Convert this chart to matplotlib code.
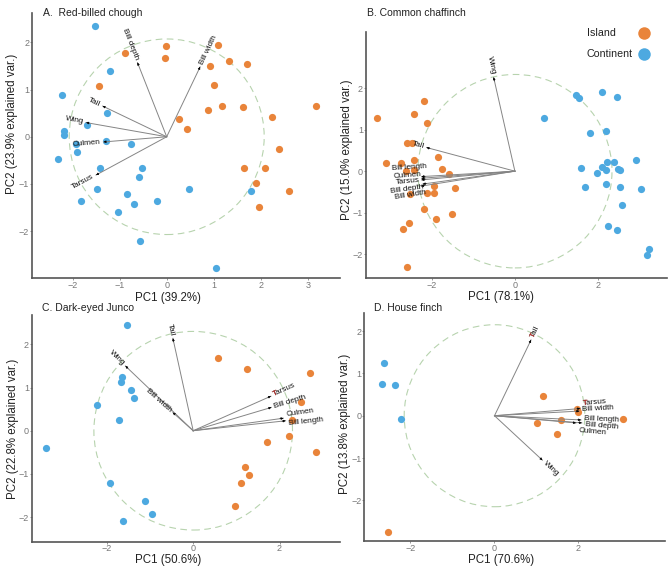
import numpy as np
import matplotlib
matplotlib.use('Agg')
import matplotlib.pyplot as plt
from matplotlib.patches import Circle

W, H = 669, 568
plt.rcParams['font.family'] = ['Liberation Sans', 'DejaVu Sans']

ISLAND = '#E9843A'
CONTINENT = '#4DA9E0'

# ---- A. Red-billed chough ----
a_isl_pc1 = [-0.88, -0.01, -0.03, -1.44, 1.09, 1.32, 1.71, 0.91, 1.00, 0.87, 1.17, 1.61,
             3.18, 2.23, 0.26, 0.43, 2.39, 1.64, 2.09, 1.89, 2.60, 1.95]
a_isl_pc2 = [1.77, 1.92, 1.66, 1.08, 1.94, 1.60, 1.53, 1.49, 1.10, 0.56, 0.65, 0.64,
             0.66, 0.42, 0.38, 0.17, -0.26, -0.67, -0.66, -0.97, -1.14, -1.48]
a_con_pc1 = [-1.53, -1.20, -2.22, -2.17, -2.19, -1.92, -1.90, -2.31, -1.26, -1.69, -1.29,
             -0.76, -1.42, -0.52, -0.58, -1.47, -0.84, -1.83, -0.69, -0.21, -1.03, 0.48,
             -0.57, 1.04, 1.78]
a_con_pc2 = [2.35, 1.40, 0.88, 0.13, 0.04, -0.15, -0.33, -0.47, 0.50, 0.25, -0.10,
             -0.15, -0.66, -0.66, -0.85, -1.10, -1.21, -1.37, -1.43, -1.37, -1.60, -1.10,
             -2.20, -2.78, -1.15]
a_vars = ['Bill depth', 'Bill width', 'Tail', 'Wing', 'Culmen', 'Tarsus']
a_load_pc1 = [-0.62, 0.71, -1.36, -1.71, -1.34, -1.50]
a_load_pc2 = [1.57, 1.48, 0.65, 0.30, -0.11, -0.81]
a_radius = 2.07

# ---- B. Common chaffinch ----
b_isl_pc1 = [-3.30, -2.18, -2.41, -2.10, -2.58, -2.46, -3.10, -2.73, -2.42, -1.85, -2.61,
             -2.42, -1.74, -1.58, -2.52, -2.10, -1.95, -1.95, -1.44, -2.18, -1.50, -1.89,
             -2.55, -2.68, -2.58]
b_isl_pc2 = [1.29, 1.69, 1.37, 1.15, 0.68, 0.67, 0.19, 0.20, 0.26, 0.35, 0.01,
             0.02, 0.06, -0.07, -0.56, -0.53, -0.53, -0.35, -0.40, -0.92, -1.02, -1.14,
             -1.24, -1.39, -2.30]
b_con_pc1 = [0.69, 1.47, 1.54, 2.08, 2.45, 1.81, 2.18, 1.58, 2.08, 2.18, 2.22, 2.39, 1.98,
             2.48, 2.53, 2.90, 1.68, 2.19, 2.53, 3.02, 2.57, 2.24, 2.46, 3.22, 3.17]
b_con_pc2 = [1.27, 1.83, 1.76, 1.91, 1.78, 0.93, 0.96, 0.08, 0.09, 0.04, 0.22, 0.21, -0.05,
             0.06, 0.02, 0.28, -0.39, -0.30, -0.39, -0.43, -0.81, -1.33, -1.42, -1.87, -2.02]
b_vars = ['Wing', 'Tail', 'Bill length', 'Culmen', 'Tarsus', 'Bill depth', 'Bill width']
b_load_pc1 = [-0.51, -2.12, -2.24, -2.24, -2.24, -2.21, -2.25]
b_load_pc2 = [2.26, 0.57, -0.13, -0.17, -0.21, -0.31, -0.36]
b_radius = 2.33

# ---- C. Dark-eyed Junco ----
c_isl_pc1 = [0.58, 1.24, 2.70, 2.49, 2.29, 2.22, 1.71, 2.84, 1.21, 1.29, 1.10, 0.96]
c_isl_pc2 = [1.68, 1.42, 1.34, 0.66, 0.25, -0.13, -0.25, -0.50, -0.83, -1.02, -1.21, -1.75]
c_con_pc1 = [-1.54, -1.66, -1.68, -1.43, -1.37, -2.23, -1.71, -3.42, -1.92, -1.12, -0.96, -1.62]
c_con_pc2 = [2.45, 1.25, 1.13, 0.94, 0.75, 0.59, 0.24, -0.39, -1.20, -1.63, -1.94, -2.09]
c_vars = ['Tail', 'Wing', 'Bill width', 'Tarsus', 'Bill depth', 'Culmen', 'Bill length']
c_load_pc1 = [-0.47, -1.57, -0.47, 1.80, 1.81, 2.09, 2.14]
c_load_pc2 = [2.14, 1.50, 0.42, 0.80, 0.54, 0.29, 0.23]
c_radius = 2.30

# ---- D. House finch ----
d_isl_pc1 = [-2.54, 1.15, 1.96, 1.98, 1.58, 1.02, 1.48, 3.06]
d_isl_pc2 = [-2.74, 0.47, 0.17, 0.09, -0.10, -0.18, -0.43, -0.07]
d_con_pc1 = [-2.62, -2.67, -2.38, -2.23]
d_con_pc2 = [1.24, 0.74, 0.73, -0.08]
d_vars = ['Tail', 'Wing', 'Tarsus', 'Bill width', 'Bill length', 'Bill depth', 'Culmen']
d_load_pc1 = [0.87, 1.14, 2.04, 2.02, 2.06, 2.08, 1.94]
d_load_pc2 = [1.79, -1.05, 0.17, 0.11, -0.10, -0.17, -0.17]
d_radius = 2.15

pc1_labels = ['PC1 (39.2%)', 'PC1 (78.1%)', 'PC1 (50.6%)', 'PC1 (70.6%)']
pc2_labels = ['PC2 (23.9% explained var.)', 'PC2 (15.0% explained var.)',
              'PC2 (22.8% explained var.)', 'PC2 (13.8% explained var.)']
titles = ['A.  Red-billed chough', 'B. Common chaffinch', 'C. Dark-eyed Junco', 'D. House finch']


def px_axes(fig, left, top, right, bottom):
    return fig.add_axes([left / W, 1 - bottom / H, (right - left) / W, (bottom - top) / H])


def draw_panel(ax, isl, con, names, lx, ly, radius, xlim, ylim, xticks,
               nudges=None, red_t=()):
    nudges = nudges or {}
    ax.add_patch(Circle((0, 0), radius, fill=False, ec='#B7D3AE', lw=0.8,
                        ls=(0, (6, 4)), zorder=1))
    ax.scatter(isl[0], isl[1], s=27, c=ISLAND, lw=0, zorder=2)
    ax.scatter(con[0], con[1], s=27, c=CONTINENT, lw=0, zorder=2)
    for name, x, y in zip(names, lx, ly):
        ax.plot([0, x], [0, y], color='#858585', lw=0.7, zorder=3)
        ax.annotate('', xy=(x, y), xytext=(x * 0.96, y * 0.96),
                    arrowprops=dict(arrowstyle='-|>', color='black', lw=0.4,
                                    mutation_scale=3.5, shrinkA=0, shrinkB=0), zorder=3)
        ang = np.degrees(np.arctan(y / x))
        d = np.hypot(x, y)
        gap = 3.0
        dx, dy = gap * x / d, gap * y / d
        ndx, ndy = nudges.get(name, (0, 0))
        ha = 'left' if x > 0 else 'right'
        kw = dict(xy=(x, y), xytext=(dx + ndx, dy + ndy), textcoords='offset pixels',
                  rotation=ang, rotation_mode='anchor', ha=ha, va='center',
                  fontsize=5.9, zorder=4)
        ax.annotate(name, color='#111111', **kw)
        if name in red_t:
            ax.annotate('T', color='#D0312D', **kw)
    ax.set_xlim(*xlim)
    ax.set_ylim(*ylim)
    ax.set_xticks(xticks)
    ax.set_yticks([-2, -1, 0, 1, 2])
    for s in ['top', 'right']:
        ax.spines[s].set_visible(False)
    for s in ['left', 'bottom']:
        ax.spines[s].set_color('#555555')
        ax.spines[s].set_linewidth(1.2)
    ax.tick_params(length=1.5, width=0.6, color='#888888', labelcolor='#777777',
                   labelsize=6.5, pad=0.5)
    ax.patch.set_alpha(0)


fig = plt.figure(figsize=(W / 100, H / 100), dpi=100)

axA = px_axes(fig, 32, 13, 340, 278)
draw_panel(axA, (a_isl_pc1, a_isl_pc2), (a_con_pc1, a_con_pc2), a_vars, a_load_pc1, a_load_pc2,
           a_radius, (-2.86, 3.68), (-2.99, 2.62), [-2, -1, 0, 1, 2, 3])

axB = px_axes(fig, 365.7, 31.7, 667, 278.3)
draw_panel(axB, (b_isl_pc1, b_isl_pc2), (b_con_pc1, b_con_pc2), b_vars, b_load_pc1, b_load_pc2,
           b_radius, (-3.58, 3.65), (-2.58, 3.36), [-2, 0, 2],
           nudges={'Bill length': (8, 10), 'Culmen': (3, 4), 'Tarsus': (1, 0),
                   'Bill depth': (3, -2), 'Bill width': (8, -6)})

axC = px_axes(fig, 31.7, 315, 340, 541.7)
draw_panel(axC, (c_isl_pc1, c_isl_pc2), (c_con_pc1, c_con_pc2), c_vars, c_load_pc1, c_load_pc2,
           c_radius, (-3.74, 3.40), (-2.57, 2.68), [-2, 0, 2],
           nudges={'Culmen': (0, 3), 'Bill length': (0, -3)}, red_t=('Tarsus',))

axD = px_axes(fig, 364.3, 313.3, 665, 541)
draw_panel(axD, (d_isl_pc1, d_isl_pc2), (d_con_pc1, d_con_pc2), d_vars, d_load_pc1, d_load_pc2,
           d_radius, (-3.10, 4.06), (-2.96, 2.42), [-2, 0, 2],
           nudges={'Tarsus': (0, 5), 'Bill width': (0, 1), 'Bill length': (0, 2),
                   'Bill depth': (0, -1), 'Culmen': (0, -7)}, red_t=('Tarsus', 'Tail'))

# overlay in pixel coordinates for titles, axis titles and legend
ov = fig.add_axes([0, 0, 1, 1], zorder=10)
ov.set_xlim(0, W)
ov.set_ylim(H, 0)
ov.axis('off')

title_pos = [(43, 13), (367, 13), (42, 308), (374, 308)]
for t, (x, y) in zip(titles, title_pos):
    ov.text(x, y, t, fontsize=7.5, color='#222222', ha='left', va='center')

xlab_pos = [(168, 298), (501, 297), (168, 560), (501, 559.5)]
for t, (x, y) in zip(pc1_labels, xlab_pos):
    ov.text(x, y, t, fontsize=8.3, color='#222222', ha='center', va='center')

ylab_pos = [(12, 124), (347, 150), (13, 429), (345, 424)]
for t, (x, y) in zip(pc2_labels, ylab_pos):
    ov.text(x, y, t, fontsize=8.3, color='#222222', ha='center', va='center', rotation=90)

legend_labels = ['Island', 'Continent']
legend_colors = [ISLAND, CONTINENT]
for i, (lab, col) in enumerate(zip(legend_labels, legend_colors)):
    y = 32.7 + i * 21.3
    ov.text(586.5, y, lab, fontsize=7.7, color='#222222', ha='left', va='center')
    ov.plot([644], [y], 'o', ms=9, color=col, mec='none')

fig.savefig('out.png', dpi=100)
